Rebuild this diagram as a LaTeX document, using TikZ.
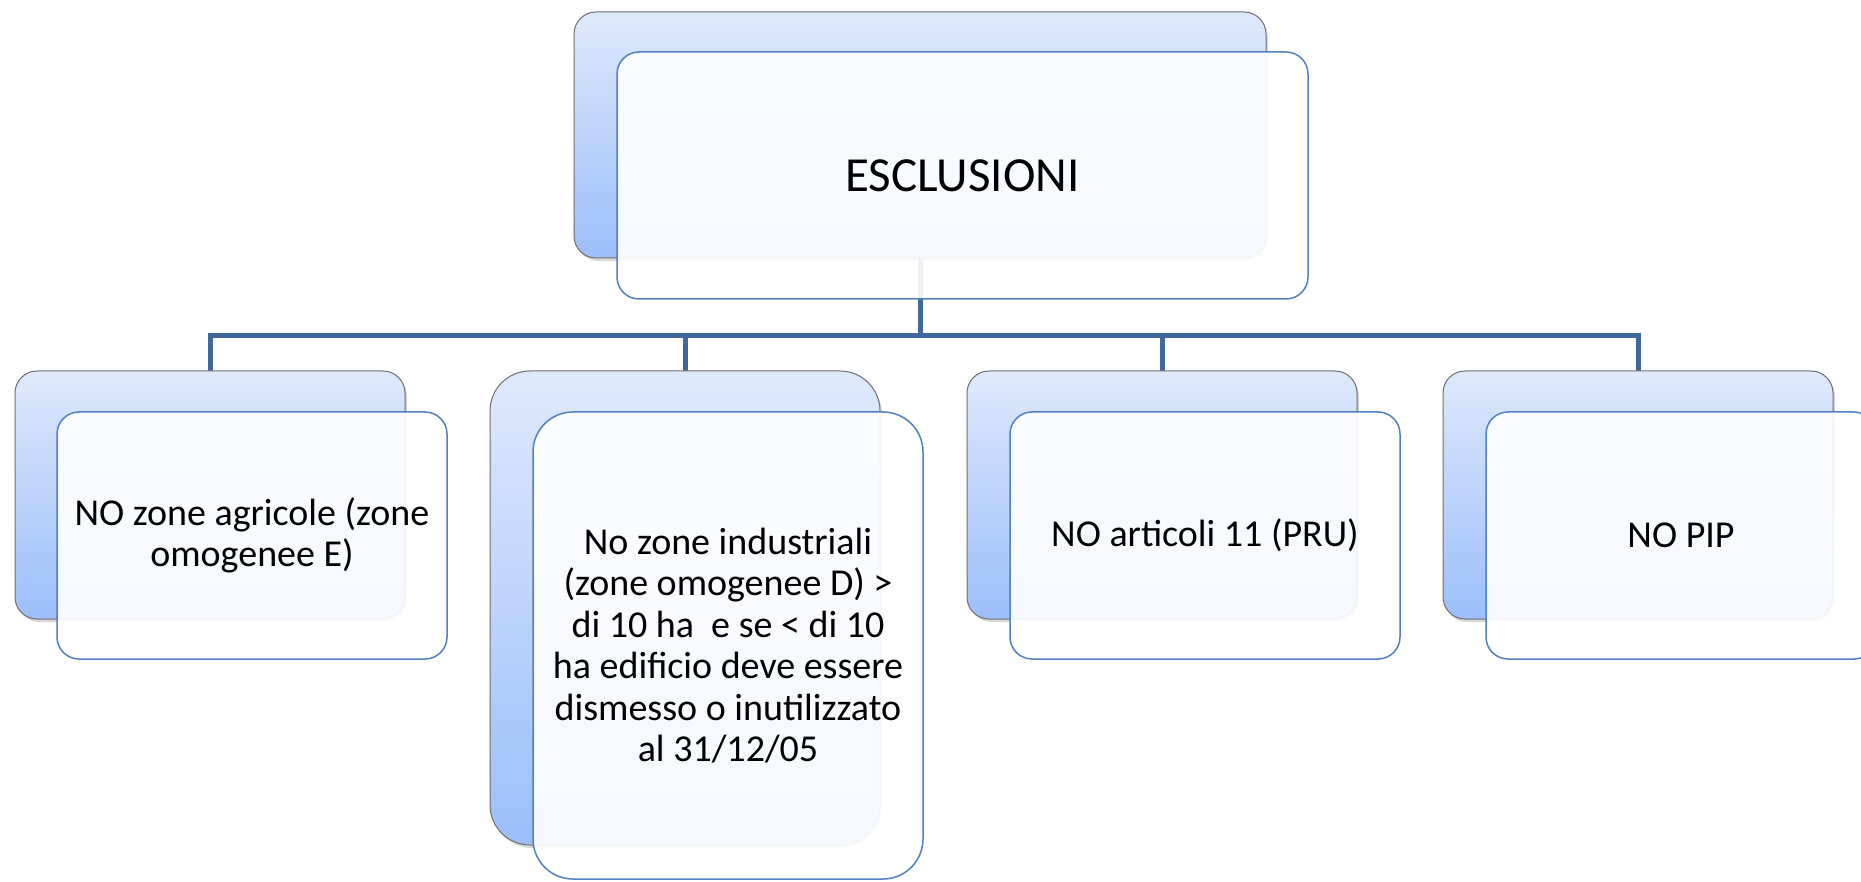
\documentclass[tikz,border=0pt]{standalone}
\usepackage{fontspec}
\setmainfont{Carlito}
\usetikzlibrary{shadows}
\pgfdeclarelayer{bg}
\pgfsetlayers{bg,main}
\definecolor{backtop}{RGB}{222,233,252}
\definecolor{backbot}{RGB}{156,190,250}
\definecolor{frontline}{RGB}{79,129,189}
\definecolor{backline}{RGB}{112,112,112}
\definecolor{connc}{RGB}{65,104,154}
\begin{document}
\begin{tikzpicture}[x=1pt,y=-1pt,
  backbox/.style={rectangle, rounded corners=22pt, draw=backline, line width=1pt,
    top color=backtop, bottom color=backbot, inner sep=0pt, outer sep=0pt,
    drop shadow={shadow xshift=2pt, shadow yshift=-3pt, opacity=0.3}},
  frontbox/.style={rectangle, rounded corners=22pt, draw=frontline, line width=1.5pt,
    fill=white, fill opacity=0.9, text opacity=1, inner sep=0pt, outer sep=0pt,
    align=center, font=\fontsize{38}{41.5}\selectfont},
  conn/.style={draw=connc, line width=5pt}]
\useasboundingbox (0,0) rectangle (1861,882);
% top
\node[backbox, minimum width=692pt, minimum height=246pt] (topback) at (920,135) {};
\node[frontbox, minimum width=691pt, minimum height=247pt, font=\fontsize{49}{53}\selectfont] (top) at (962.5,175.5) {ESCLUSIONI};
% box 1
\node[backbox, minimum width=390pt, minimum height=248pt] (b1back) at (210,495) {};
\node[frontbox, minimum width=390pt, minimum height=247pt] (b1) at (252,535.5) {NO zone agricole (zone\\omogenee E)};
% box 2
\node[backbox, rounded corners=40pt, minimum width=390pt, minimum height=474pt] (b2back) at (685,608) {};
\node[frontbox, rounded corners=40pt, minimum width=390pt, minimum height=467pt] (b2) at (728,645.5) {No zone industriali\\(zone omogenee D) >\\di 10 ha\ \ e se < di 10\\ha edificio deve essere\\dismesso o inutilizzato\\al 31/12/05};
% box 3
\node[backbox, minimum width=390pt, minimum height=248pt] (b3back) at (1162,495) {};
\node[frontbox, minimum width=390pt, minimum height=247pt] (b3) at (1205,535.5) {NO articoli 11 (PRU)};
% box 4
\node[backbox, minimum width=390pt, minimum height=248pt] (b4back) at (1638,495) {};
\node[frontbox, minimum width=390pt, minimum height=247pt] (b4) at (1681,535.5) {NO PIP};
% connectors
\coordinate (hub) at (920,336);
\begin{pgfonlayer}{bg}
\fill[white] (0,0) rectangle (1861,882);
\draw[conn] (b1back.north) |- (hub) -| (b4back.north);
\draw[conn] (topback.south) -- (hub);
\draw[conn] (b2back.north) -- (b2back.north |- hub);
\draw[conn] (b3back.north) -- (b3back.north |- hub);
\end{pgfonlayer}
\end{tikzpicture}
\end{document}
